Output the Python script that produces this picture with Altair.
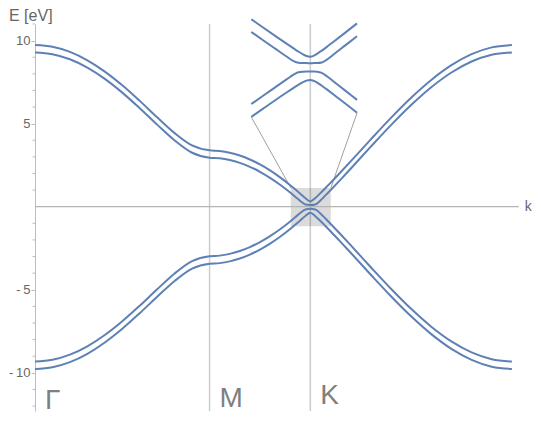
import altair as alt
import pandas as pd

BLUE = "#5E81B5"
AXIS = "#bdbdbd"
GRID = "#cccccc"
LABEL = "#666666"

# ---- band structure along Γ-M-K-Γ (k in units of 2π/a) ----
k = [0.0, 0.0577, 0.1155, 0.1732, 0.2309, 0.2887, 0.3464, 0.4041, 0.4619, 0.5196,
     0.5774, 0.6107, 0.6441, 0.6774, 0.7107, 0.7441, 0.7774, 0.8107, 0.8441, 0.8607,
     0.8774, 0.8941, 0.9107, 0.9274, 0.9441, 0.9607, 0.9774, 1.0107, 1.0441, 1.1107,
     1.1774, 1.2441, 1.3107, 1.3774, 1.4441, 1.5107, 1.5774]
band_upper_outer = [9.730, 9.625, 9.318, 8.815, 8.136, 7.309, 6.371, 5.382, 4.431, 3.689,
                    3.392, 3.357, 3.253, 3.082, 2.844, 2.543, 2.182, 1.765, 1.297, 1.046,
                    0.786, 0.520, 0.320, 0.529, 0.819, 1.124, 1.435, 2.075, 2.729, 4.054,
                    5.350, 6.561, 7.633, 8.520, 9.183, 9.592, 9.730]
band_upper_inner = [9.290, 9.185, 8.878, 8.374, 7.695, 6.868, 5.930, 4.941, 3.990, 3.248,
                    2.950, 2.915, 2.811, 2.640, 2.402, 2.101, 1.739, 1.324, 0.855, 0.605,
                    0.347, 0.135, 0.108, 0.138, 0.380, 0.682, 0.994, 1.632, 2.287, 3.613,
                    4.909, 6.120, 7.192, 8.079, 8.742, 9.151, 9.290]
band_lower_inner = [-9.320, -9.215, -8.908, -8.404, -7.725, -6.898, -5.960, -4.971, -4.020, -3.278,
                    -2.980, -2.945, -2.841, -2.670, -2.432, -2.131, -1.769, -1.354, -0.885, -0.635,
                    -0.377, -0.165, -0.118, -0.168, -0.410, -0.712, -1.024, -1.662, -2.317, -3.643,
                    -4.939, -6.150, -7.222, -8.109, -8.772, -9.181, -9.320]
band_lower_outer = [-9.770, -9.665, -9.358, -8.855, -8.176, -7.349, -6.411, -5.422, -4.471, -3.729,
                    -3.432, -3.397, -3.293, -3.122, -2.884, -2.583, -2.222, -1.805, -1.337, -1.086,
                    -0.826, -0.560, -0.360, -0.569, -0.859, -1.164, -1.475, -2.115, -2.769, -4.094,
                    -5.390, -6.601, -7.673, -8.560, -9.223, -9.632, -9.770]

# ---- magnified view around K ----
inset_q = [-1.25, -1.0, -0.75, -0.5, -0.35, -0.25, -0.15, -0.075, 0.0, 0.075, 0.15, 0.25, 0.35, 0.5, 0.75, 1.0]
inset_upper_outer = [1.317, 1.096, 0.876, 0.657, 0.529, 0.446, 0.370, 0.324, 0.305, 0.329, 0.383, 0.471, 0.565, 0.711, 0.957, 1.206]
inset_upper_inner = [0.974, 0.751, 0.530, 0.310, 0.187, 0.142, 0.133, 0.132, 0.130, 0.132, 0.134, 0.150, 0.220, 0.364, 0.612, 0.861]
inset_lower_inner = [-0.974, -0.751, -0.530, -0.309, -0.181, -0.117, -0.099, -0.095, -0.094, -0.096, -0.100, -0.132, -0.217, -0.363, -0.612, -0.861]
inset_lower_outer = [-1.320, -1.099, -0.879, -0.662, -0.536, -0.455, -0.383, -0.342, -0.325, -0.346, -0.395, -0.480, -0.572, -0.715, -0.960, -1.208]

sym_labels = ["Γ", "M", "K"]
sym_k = [0.0, 0.5774, 0.9107]
y_major = [-10, -5, 5, 10]
y_minor = [-12, -11, -9, -8, -7, -6, -4, -3, -2, -1, 1, 2, 3, 4, 6, 7, 8, 9, 11]

PAD_L, PAD_R, PAD_T, PAD_B = 27, 17, 16, 6
W, H = 481, 387
K_MAX = 1.591
K_AXIS_END = 1.600


def xs():
    return alt.Scale(domain=[0, K_MAX], range=[0, W], nice=False, zero=False)


def ys():
    return alt.Scale(domain=[-12.3, 11], range=[H, 0], nice=False, zero=False)


rows = []
for name, vals in [("uo", band_upper_outer), ("ui", band_upper_inner),
                   ("li", band_lower_inner), ("lo", band_lower_outer)]:
    for kk, e in zip(k, vals):
        rows.append({"k": kk, "E": e, "band": name})
bands_df = pd.DataFrame(rows)

irows = []
for name, vals in [("uo", inset_upper_outer), ("ui", inset_upper_inner),
                   ("li", inset_lower_inner), ("lo", inset_lower_outer)]:
    for q, e in zip(inset_q, vals):
        irows.append({"q": q, "E": e, "band": name})
inset_df = pd.DataFrame(irows)


def XN(f):
    return alt.X(f, scale=xs(), axis=None)


def YN(f):
    return alt.Y(f, scale=ys(), axis=None)


# y axis (major ticks + labels) carried by the minor-tick layer, which comes first
axis_layer = alt.Chart(pd.DataFrame({"v": y_minor})).mark_rule(color=AXIS, strokeWidth=1).encode(
    y=alt.Y("v:Q", scale=ys(), axis=alt.Axis(
        values=y_major, title=None, grid=False, domainColor=AXIS, tickColor=AXIS,
        tickSize=4, labelColor=LABEL, labelFont="Liberation Sans", labelFontSize=13,
        labelPadding=1,
        labelExpr="datum.value < 0 ? '-\u2009' + abs(datum.value) : datum.label")),
    x=alt.value(-2.5), x2=alt.value(0))

# vertical high-symmetry lines
vlines = alt.Chart(pd.DataFrame({"k": sym_k[1:]})).mark_rule(
    color=GRID, strokeWidth=1.5).encode(x=XN("k:Q"))

# grey zoom box around K
box = alt.Chart(pd.DataFrame({"k0": [0.8462], "k1": [0.9785], "e0": [-1.17], "e1": [1.13]})).mark_rect(
    color="#000000", opacity=0.14).encode(
    x=XN("k0:Q"), x2="k1:Q", y=YN("e0:Q"), y2="e1:Q")

# horizontal axis at E = 0
xaxis = alt.Chart(pd.DataFrame({"k0": [0.0], "k1": [K_AXIS_END], "E": [0.0]})).mark_rule(
    color="#b4b4b4", strokeWidth=1.2).encode(x=XN("k0:Q"), x2="k1:Q", y=YN("E:Q"))

# connector lines from box to inset
conn_df = pd.DataFrame({"k0": [0.8462, 0.9785], "e0": [1.13, 1.13],
                        "k1": [0.7155, 1.0652], "e1": [5.40, 5.64]})
conn = alt.Chart(conn_df).mark_rule(color="#a0a0a0", strokeWidth=1).encode(
    x=XN("k0:Q"), y=YN("e0:Q"), x2="k1:Q", y2="e1:Q")

bands = alt.Chart(bands_df).mark_line(color=BLUE, strokeWidth=2, interpolate="monotone").encode(
    x=XN("k:Q"), y=YN("E:Q"), detail="band:N")

sym_text = alt.Chart(pd.DataFrame({"lab": sym_labels, "k": sym_k, "E": [-12.2, -12.05, -11.85]})).mark_text(
    align="left", baseline="alphabetic", dx=10, fontSize=28, font="Liberation Sans",
    color="#7f7f7f").encode(x=XN("k:Q"), y=YN("E:Q"), text="lab:N")

k_text = alt.Chart(pd.DataFrame({"lab": ["k"], "k": [K_AXIS_END], "E": [0.0]})).mark_text(
    align="left", baseline="middle", dx=6, fontSize=14, font="Liberation Sans",
    color=LABEL).encode(x=XN("k:Q"), y=YN("E:Q"), text="lab:N")

e_title = alt.Chart(pd.DataFrame({"lab": ["E [eV]"]})).mark_text(
    align="left", baseline="alphabetic", fontSize=16, font="Liberation Sans",
    color=LABEL).encode(x=alt.value(-PAD_L + 1), y=alt.value(-3), text="lab:N")

K_PX = sym_k[2] / K_MAX * W
inset = alt.Chart(inset_df).mark_line(color=BLUE, strokeWidth=2, interpolate="monotone").encode(
    x=alt.X("q:Q", axis=None,
            scale=alt.Scale(domain=[-1.25, 1.0], range=[K_PX - 59, K_PX + 46.7], nice=False, zero=False)),
    y=alt.Y("E:Q", axis=None,
            scale=alt.Scale(domain=[-1.5, 1.5], range=[99.5, -11.5], nice=False, zero=False)),
    detail="band:N")

chart = alt.layer(axis_layer, vlines, box, xaxis, conn, bands, sym_text, k_text, e_title, inset).resolve_scale(
    x="independent", y="independent").properties(
    width=W, height=H,
    background="white",
    autosize=alt.AutoSizeParams(type="none"),
    padding={"left": PAD_L, "top": PAD_T, "right": PAD_R, "bottom": PAD_B},
).configure_view(strokeWidth=0, stroke="transparent")

chart.save("out.html", embed_options={"renderer": "svg", "actions": False})
